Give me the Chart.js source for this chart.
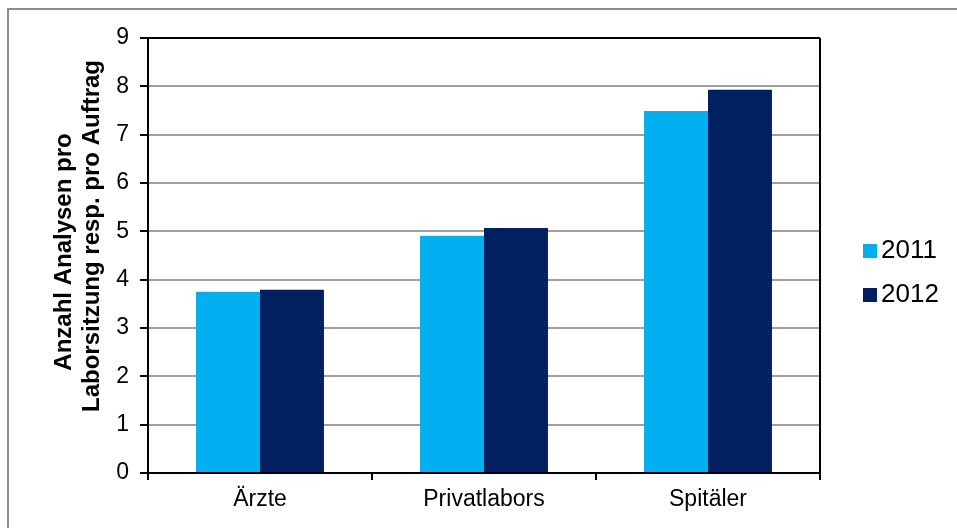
<!DOCTYPE html>
<html>
<head>
<meta charset="utf-8">
<script src="https://cdn.jsdelivr.net/npm/chart.js@4.4.1/dist/chart.umd.min.js"></script>
<style>
  body { margin: 0; background: #fff; }
  #wrap { position: relative; width: 957px; height: 528px; }
  #frame { position: absolute; left: 7px; top: 8px; right: 0; bottom: 0;
           border-top: 2px solid #8c8c8c; border-left: 2px solid #8c8c8c; pointer-events: none; }
</style>
</head>
<body>
<div id="wrap">
  <canvas id="myChart" width="957" height="528"></canvas>
  <div id="frame"></div>
</div>
<script>
// Chart data
const categories = ['Ärzte', 'Privatlabors', 'Spitäler'];
const years = ['2011', '2012'];
const values2011 = [3.75, 4.91, 7.49];
const values2012 = [3.79, 5.07, 7.93];
const yTicks = [0, 1, 2, 3, 4, 5, 6, 7, 8, 9];
const yTitle = ['Anzahl Analysen pro', 'Laborsitzung resp. pro Auftrag'];
const colors = ['#00B0F0', '#002060'];

const font = 'Arial, "Liberation Sans", sans-serif';

// Plot frame (top + right lines), y title and legend on the right
const framePlugin = {
  id: 'framePlugin',
  afterDraw(chart) {
    const { ctx, chartArea } = chart;
    ctx.save();
    ctx.strokeStyle = '#000';
    ctx.lineWidth = 2;
    ctx.beginPath();
    ctx.moveTo(chartArea.left, chartArea.top);
    ctx.lineTo(chartArea.right, chartArea.top);
    ctx.moveTo(chartArea.right, chartArea.top);
    ctx.lineTo(chartArea.right, chartArea.bottom);
    ctx.stroke();

    // y axis title, two lines rotated
    ctx.fillStyle = '#000';
    ctx.font = 'bold 24px ' + font;
    ctx.textAlign = 'center';
    ctx.textBaseline = 'middle';
    const titlePos = [[64, 252], [92, 236]];
    yTitle.forEach((t, i) => {
      ctx.save();
      ctx.translate(titlePos[i][0], titlePos[i][1]);
      ctx.rotate(-Math.PI / 2);
      ctx.fillText(t, 0, 0);
      ctx.restore();
    });

    // legend
    ctx.font = '26px ' + font;
    ctx.textAlign = 'left';
    years.forEach((y, i) => {
      const cy = 251 + i * 44;
      ctx.fillStyle = colors[i];
      ctx.fillRect(chartArea.right + 43, cy - 7, 14, 14);
      ctx.fillStyle = '#000';
      ctx.fillText(y, chartArea.right + 61, cy);
    });
    ctx.restore();
  }
};

const ctx = document.getElementById('myChart');

const myChart = new Chart(ctx, {
  type: 'bar',
  data: {
    labels: categories,
    datasets: [
      { label: years[0], data: values2011, backgroundColor: colors[0] },
      { label: years[1], data: values2012, backgroundColor: colors[1] }
    ]
  },
  options: {
    responsive: false,
    animation: false,
    devicePixelRatio: 1,
    layout: { padding: { top: 38, right: 137, left: 0, bottom: 0 } },
    categoryPercentage: 0.571,
    barPercentage: 1,
    plugins: {
      legend: { display: false },
      tooltip: { enabled: false }
    },
    scales: {
      x: {
        grid: { offset: true, drawOnChartArea: false, color: '#000', tickLength: 7, lineWidth: 2 },
        border: { color: '#000', width: 2 },
        ticks: { color: '#000', font: { family: font, size: 23 }, padding: 6 },
        afterFit(scale) { scale.height = 55; }
      },
      y: {
        min: 0,
        max: 9,
        afterBuildTicks(scale) { scale.ticks = yTicks.map(v => ({ value: v })); },
        grid: {
          color: c => c.tick && c.tick.value === 9 ? '#000' : '#a0a0a0',
          lineWidth: 2,
          tickColor: '#000',
          tickLength: 8
        },
        border: { color: '#000', width: 2 },
        ticks: { color: '#000', font: { family: font, size: 23 }, padding: 11 },
        afterFit(scale) { scale.width = 148; }
      }
    }
  },
  plugins: [framePlugin]
});
</script>
</body>
</html>
